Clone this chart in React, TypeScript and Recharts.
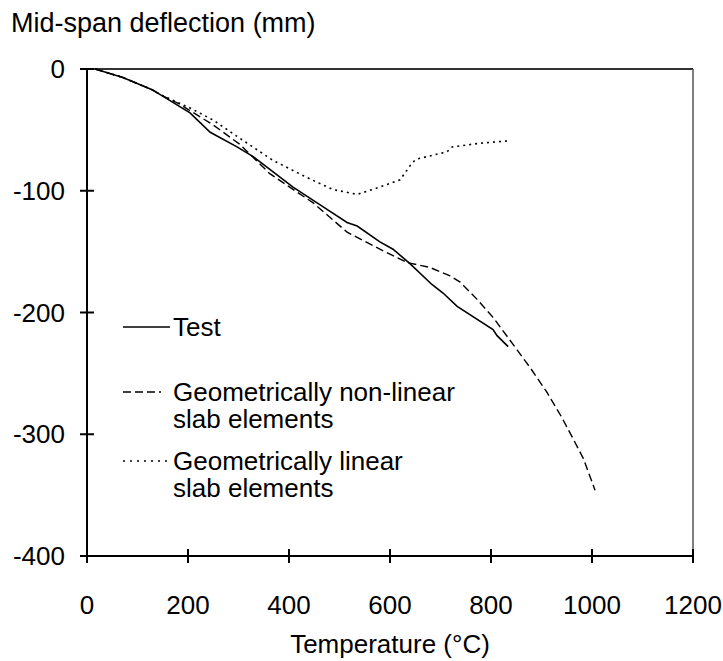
import { LineChart, Line, XAxis, YAxis, ReferenceLine, Label } from "recharts";

const xTicks = [0, 200, 400, 600, 800, 1000, 1200];
const yTicks = [0, -100, -200, -300, -400];

const testTemp = [16, 71, 129, 145, 204, 244, 297, 329, 408, 467, 515, 535, 580, 606, 640, 683, 705, 733, 804, 812, 834];
const testDefl = [0, -7, -17, -21, -36, -52, -64, -72, -97, -113, -126, -129, -142, -148, -160, -177, -184, -195, -214, -219, -228];

const nonlinTemp = [16, 71, 129, 145, 184, 250, 303, 362, 448, 515, 580, 634, 679, 719, 739, 772, 804, 838, 877, 910, 940, 963, 983, 1006];
const nonlinDefl = [0, -7, -17, -21, -29, -46, -62, -86, -110, -134, -148, -159, -163, -170, -175, -189, -204, -223, -245, -265, -286, -304, -320, -346];

const linTemp = [16, 71, 129, 145, 204, 250, 303, 368, 435, 487, 535, 580, 620, 644, 653, 713, 723, 778, 834];
const linDefl = [0, -7, -17, -21, -32, -42, -57, -75, -89, -99, -103, -97, -91, -77, -74, -68, -64, -61, -59];

const toPoints = (ts: number[], ds: number[]) => ts.map((t, i) => ({ t, d: ds[i] }));

const testData = toPoints(testTemp, testDefl);
const nonlinData = toPoints(nonlinTemp, nonlinDefl);
const linData = toPoints(linTemp, linDefl);

const FONT = '"Liberation Sans", Arial, sans-serif';
const FS = 26;

const YTick = (props: any) => {
  const { x, y, payload } = props;
  return (
    <g>
      <line x1={x - 7} x2={x + 7} y1={y} y2={y} stroke="#000" strokeWidth={2} />
      <text x={x - 22} y={y} textAnchor="end" dominantBaseline="central" fontFamily={FONT} fontSize={FS} fill="#000">
        {payload.value}
      </text>
    </g>
  );
};

const XTick = (props: any) => {
  const { x, y, payload } = props;
  return (
    <g>
      <line x1={x} x2={x} y1={y - 7} y2={y + 7} stroke="#000" strokeWidth={2} />
      <text x={x} y={y + 49} textAnchor="middle" dominantBaseline="central" fontFamily={FONT} fontSize={FS} fill="#000">
        {payload.value}
      </text>
    </g>
  );
};

// legend sits inside the plot, lines on the left, wrapped labels
const legendItems = [
  { label: ["Test"], dash: undefined, top: 0, len: 47 },
  { label: ["Geometrically non-linear", "slab elements"], dash: "8 4", top: 65, len: 38 },
  { label: ["Geometrically linear", "slab elements"], dash: "2 5", top: 134, len: 47 },
];

const ChartLegend = () => (
  <div style={{ position: "absolute", left: 120, top: 314, width: 420, height: 200, fontFamily: FONT, fontSize: FS, color: "#000" }}>
    {legendItems.map((it) => (
      <div key={it.label[0]} style={{ position: "absolute", left: 0, top: it.top }}>
        <svg width={52} height={26} style={{ position: "absolute", left: 0, top: 0 }}>
          <line x1={3} x2={3 + it.len} y1={13} y2={13} stroke="#000" strokeWidth={1.5} strokeDasharray={it.dash} />
        </svg>
        {it.label.map((l, i) => (
          <div
            key={l}
            style={{ position: "absolute", left: 53, top: i * 27, height: 26, lineHeight: "26px", whiteSpace: "nowrap" }}
          >
            {l}
          </div>
        ))}
      </div>
    ))}
  </div>
);

export default function App() {
  return (
    <div style={{ position: "absolute", left: 0, top: 0, width: 723, height: 661, background: "#fff" }}>
      <LineChart width={723} height={661} margin={{ top: 69, right: 30, bottom: 0, left: 0 }}>
        <XAxis
          type="number"
          dataKey="t"
          domain={[0, 1200]}
          ticks={xTicks}
          height={105}
          axisLine={{ stroke: "#000", strokeWidth: 2 }}
          tickLine={false}
          tickSize={0}
          tickMargin={0}
          tick={<XTick />}
          interval={0}
        >
          <Label
            content={() => (
              <text x={390} y={653} textAnchor="middle" fontFamily={FONT} fontSize={FS} fill="#000">
                Temperature (°C)
              </text>
            )}
          />
        </XAxis>
        <YAxis
          type="number"
          dataKey="d"
          domain={[-400, 0]}
          ticks={yTicks}
          width={87}
          axisLine={{ stroke: "#000", strokeWidth: 2 }}
          tickLine={false}
          tickSize={0}
          tickMargin={0}
          tick={<YTick />}
          interval={0}
        >
          <Label
            content={() => (
              <text x={11} y={32} fontFamily={FONT} fontSize={FS + 1} fill="#000">
                Mid-span deflection (mm)
              </text>
            )}
          />
        </YAxis>
        <ReferenceLine y={0} stroke="#333" strokeWidth={2} />
        <ReferenceLine x={1200} stroke="#555" strokeWidth={1.5} />
        <Line data={linData} dataKey="d" stroke="#000" strokeWidth={1.6} strokeDasharray="2 4" dot={false} isAnimationActive={false} />
        <Line data={nonlinData} dataKey="d" stroke="#000" strokeWidth={1.4} strokeDasharray="8 4" dot={false} isAnimationActive={false} />
        <Line data={testData} dataKey="d" stroke="#000" strokeWidth={1.6} dot={false} isAnimationActive={false} />
      </LineChart>
      <ChartLegend />
    </div>
  );
}
